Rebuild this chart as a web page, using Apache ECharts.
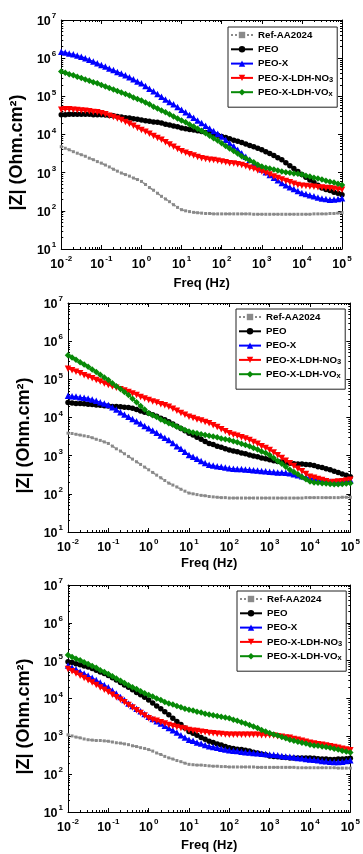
<!DOCTYPE html>
<html><head><meta charset="utf-8">
<script src="https://cdn.jsdelivr.net/npm/echarts@6/dist/echarts.min.js"></script>
<style>html,body{margin:0;padding:0;background:#fff}#c{width:363px;height:854px}</style>
</head><body><div id="c"></div>
<script>
// Frequencies (Hz), 10 points per decade
const freq = [0.01,0.0126,0.0158,0.02,0.0251,0.0316,0.0398,0.0501,0.0631,0.0794,
0.1,0.126,0.158,0.2,0.251,0.316,0.398,0.501,0.631,0.794,
1,1.26,1.58,2,2.51,3.16,3.98,5.01,6.31,7.94,
10,12.6,15.8,20,25.1,31.6,39.8,50.1,63.1,79.4,
100,126,158,200,251,316,398,501,631,794,
1000,1260,1580,2000,2510,3160,3980,5010,6310,7940,
10000,12600,15800,20000,25100,31600,39800,50100,63100,79400,
100000];

const xTickExps = [-2,-1,0,1,2,3,4,5];
const yTickExps = [1,2,3,4,5,6,7];
const seriesNames = ['Ref-AA2024','PEO','PEO-X','PEO-X-LDH-NO3','PEO-X-LDH-VOx'];

// ---- Panel 1: log10(|Z|) ----
const p1Ref = [3.68,3.64,3.60,3.55,3.51,3.47, 3.43,3.38,3.34,3.29,3.25, 3.20,3.15,3.09,3.04,2.99, 2.95,2.91,2.86,2.82,2.77, 2.69,2.61,2.54,2.46,2.38, 2.31,2.24,2.16,2.09,2.03, 2.00,1.98,1.96,1.95,1.94, 1.93,1.93,1.92,1.92,1.92, 1.92,1.92,1.92,1.92,1.92, 1.92,1.92,1.91,1.91,1.91, 1.91,1.91,1.91,1.91,1.91, 1.91,1.91,1.91,1.91,1.91, 1.91,1.91,1.92,1.92,1.92, 1.92,1.93,1.93,1.94,1.95];
const p1PEO = [4.52,4.52,4.53,4.53,4.53,4.53, 4.53,4.53,4.52,4.52,4.52, 4.51,4.50,4.49,4.47,4.46, 4.44,4.43,4.41,4.40,4.38, 4.36,4.35,4.33,4.32,4.30, 4.27,4.25,4.22,4.20,4.17, 4.15,4.13,4.12,4.10,4.08, 4.05,4.03,4.00,3.98,3.95, 3.92,3.89,3.85,3.82,3.79, 3.75,3.71,3.68,3.64,3.60, 3.55,3.50,3.45,3.39,3.34, 3.26,3.18,3.11,3.03,2.95, 2.88,2.81,2.74,2.67,2.60, 2.56,2.53,2.49,2.46,2.42];
const p1X = [6.17,6.15,6.12,6.10,6.07,6.04, 6.00,5.96,5.91,5.87,5.82, 5.78,5.73,5.69,5.64,5.60, 5.55,5.50,5.45,5.39,5.34, 5.27,5.20,5.13,5.06,4.99, 4.92,4.85,4.79,4.72,4.65, 4.58,4.51,4.44,4.37,4.30, 4.23,4.16,4.09,4.02,3.95, 3.86,3.77,3.69,3.60,3.51, 3.42,3.34,3.25,3.17,3.08, 3.01,2.94,2.87,2.80,2.73, 2.67,2.62,2.57,2.52,2.47, 2.44,2.41,2.38,2.35,2.32, 2.31,2.29,2.30,2.31,2.33];
const p1NO3 = [4.65,4.66,4.66,4.65,4.64,4.63, 4.62,4.61,4.59,4.58,4.56, 4.53,4.49,4.46,4.42,4.38, 4.33,4.28,4.23,4.17,4.12, 4.07,4.02,3.96,3.91,3.86, 3.80,3.74,3.68,3.62,3.56, 3.52,3.48,3.45,3.41,3.38, 3.36,3.34,3.33,3.31,3.29, 3.27,3.25,3.24,3.22,3.20, 3.17,3.13,3.10,3.06,3.03, 2.99,2.95,2.90,2.86,2.82, 2.78,2.75,2.71,2.68,2.66, 2.65,2.64,2.63,2.62,2.61, 2.60,2.59,2.58,2.56,2.55];
const p1VOx = [5.65,5.62,5.58,5.55,5.51,5.48, 5.44,5.41,5.37,5.34,5.30, 5.26,5.22,5.18,5.14,5.10, 5.06,5.02,4.97,4.93,4.89, 4.84,4.79,4.73,4.68,4.63, 4.58,4.53,4.47,4.42,4.37, 4.32,4.26,4.21,4.15,4.10, 4.03,3.97,3.90,3.84,3.77, 3.70,3.63,3.57,3.50,3.43, 3.38,3.32,3.27,3.21,3.16, 3.13,3.11,3.08,3.06,3.03, 3.01,3.00,2.98,2.97,2.95, 2.92,2.90,2.87,2.85,2.82, 2.79,2.76,2.74,2.71,2.68];

// ---- Panel 2 ----
const p2Ref = [3.59,3.58,3.56,3.54,3.52,3.50, 3.47,3.43,3.40,3.36,3.32, 3.25,3.18,3.12,3.05,2.98, 2.91,2.84,2.77,2.70,2.63, 2.56,2.49,2.42,2.35,2.28, 2.23,2.18,2.12,2.07,2.02, 2.00,1.98,1.96,1.95,1.93, 1.92,1.91,1.90,1.90,1.89, 1.89,1.89,1.89,1.89,1.89, 1.89,1.89,1.89,1.89,1.89, 1.89,1.89,1.89,1.89,1.89, 1.89,1.89,1.89,1.90,1.90, 1.90,1.90,1.90,1.90,1.90, 1.90,1.90,1.91,1.91,1.91];
const p2PEO = [4.39,4.38,4.37,4.37,4.36,4.35, 4.34,4.33,4.32,4.31,4.30, 4.29,4.29,4.28,4.27,4.26, 4.24,4.21,4.17,4.14,4.11, 4.07,4.03,3.98,3.94,3.89, 3.83,3.77,3.71,3.65,3.59, 3.54,3.48,3.43,3.37,3.32, 3.29,3.25,3.22,3.18,3.15, 3.12,3.10,3.07,3.05,3.02, 2.99,2.97,2.94,2.92,2.89, 2.87,2.85,2.84,2.82,2.80, 2.79,2.78,2.78,2.77,2.76, 2.74,2.71,2.69,2.66,2.63, 2.59,2.56,2.52,2.49,2.45];
const p2X = [4.57,4.56,4.55,4.53,4.52,4.50, 4.47,4.44,4.40,4.37,4.33, 4.27,4.21,4.14,4.08,4.02, 3.96,3.90,3.84,3.78,3.72, 3.66,3.60,3.53,3.47,3.41, 3.33,3.25,3.18,3.10,3.02, 2.97,2.92,2.86,2.81,2.76, 2.74,2.72,2.71,2.69,2.67, 2.66,2.65,2.65,2.64,2.63, 2.62,2.61,2.60,2.59,2.58, 2.57,2.56,2.56,2.55,2.54, 2.51,2.49,2.46,2.44,2.41, 2.39,2.37,2.36,2.34,2.32, 2.31,2.31,2.32,2.34,2.36];
const p2NO3 = [5.28,5.24,5.20,5.16,5.11,5.07, 5.03,4.98,4.94,4.89,4.85, 4.81,4.78,4.74,4.71,4.67, 4.63,4.59,4.54,4.50,4.46, 4.42,4.39,4.35,4.32,4.28, 4.23,4.18,4.12,4.07,4.02, 3.99,3.95,3.92,3.88,3.85, 3.80,3.75,3.69,3.64,3.59, 3.55,3.52,3.48,3.45,3.41, 3.36,3.31,3.25,3.20,3.15, 3.08,3.01,2.94,2.87,2.80, 2.73,2.66,2.59,2.52,2.45, 2.42,2.39,2.36,2.33,2.30, 2.31,2.32,2.33,2.35,2.37];
const p2VOx = [5.63,5.57,5.51,5.45,5.39,5.33, 5.26,5.19,5.12,5.05,4.98, 4.90,4.82,4.75,4.67,4.59, 4.49,4.40,4.30,4.21,4.11, 4.06,4.01,3.95,3.90,3.85, 3.81,3.76,3.72,3.67,3.63, 3.61,3.59,3.56,3.54,3.52, 3.50,3.48,3.45,3.43,3.41, 3.38,3.35,3.31,3.28,3.25, 3.20,3.16,3.11,3.07,3.02, 2.94,2.86,2.79,2.71,2.63, 2.57,2.51,2.44,2.38,2.32, 2.30,2.29,2.28,2.27,2.26, 2.25,2.25,2.26,2.27,2.28];

// ---- Panel 3 ----
const p3Ref = [3.04,3.01,2.98,2.96,2.93,2.91, 2.90,2.89,2.89,2.88,2.87, 2.85,2.83,2.82,2.80,2.78, 2.75,2.73,2.70,2.68,2.65, 2.61,2.56,2.52,2.47,2.43, 2.40,2.36,2.33,2.29,2.26, 2.25,2.24,2.24,2.23,2.22, 2.21,2.21,2.20,2.20,2.19, 2.19,2.19,2.19,2.19,2.19, 2.19,2.18,2.18,2.18,2.18, 2.18,2.18,2.18,2.18,2.18, 2.18,2.17,2.17,2.17,2.17, 2.17,2.17,2.17,2.17,2.17, 2.17,2.16,2.16,2.16,2.16];
const p3PEO = [4.97,4.95,4.92,4.89,4.86,4.83, 4.79,4.75,4.70,4.66,4.61, 4.55,4.49,4.42,4.36,4.30, 4.23,4.16,4.10,4.03,3.96, 3.88,3.80,3.73,3.65,3.57, 3.48,3.39,3.31,3.22,3.13, 3.08,3.03,2.97,2.92,2.87, 2.84,2.80,2.77,2.73,2.70, 2.68,2.66,2.65,2.63,2.61, 2.58,2.56,2.53,2.51,2.48, 2.47,2.46,2.45,2.44,2.43, 2.43,2.43,2.43,2.43,2.43, 2.42,2.41,2.40,2.40,2.39, 2.39,2.40,2.40,2.41,2.42];
const p3X = [4.87,4.82,4.77,4.71,4.66,4.61, 4.55,4.49,4.42,4.36,4.30, 4.21,4.13,4.04,3.96,3.87, 3.80,3.73,3.66,3.59,3.52, 3.46,3.40,3.34,3.28,3.22, 3.16,3.10,3.03,2.97,2.91, 2.88,2.84,2.81,2.77,2.74, 2.72,2.70,2.67,2.65,2.63, 2.62,2.61,2.59,2.58,2.57, 2.56,2.55,2.54,2.53,2.52, 2.51,2.50,2.48,2.47,2.46, 2.45,2.43,2.42,2.40,2.39, 2.38,2.37,2.35,2.34,2.33, 2.32,2.32,2.33,2.35,2.37];
const p3NO3 = [4.78,4.72,4.66,4.60,4.54,4.48, 4.42,4.36,4.29,4.23,4.17, 4.10,4.03,3.97,3.90,3.83, 3.76,3.69,3.62,3.55,3.48, 3.44,3.41,3.37,3.34,3.30, 3.27,3.25,3.22,3.20,3.17, 3.15,3.14,3.12,3.11,3.09, 3.08,3.07,3.06,3.05,3.04, 3.04,3.04,3.04,3.04,3.04, 3.04,3.04,3.03,3.03,3.03, 3.02,3.00,2.99,2.97,2.96, 2.93,2.91,2.88,2.86,2.83, 2.81,2.79,2.78,2.76,2.74, 2.72,2.70,2.67,2.65,2.63];
const p3VOx = [5.15,5.10,5.05,5.01,4.96,4.91, 4.86,4.81,4.75,4.70,4.65, 4.59,4.53,4.47,4.41,4.35, 4.30,4.25,4.19,4.14,4.09, 4.05,4.00,3.96,3.91,3.87, 3.84,3.80,3.77,3.73,3.70, 3.68,3.65,3.63,3.60,3.58, 3.56,3.54,3.52,3.50,3.48, 3.44,3.41,3.37,3.34,3.30, 3.26,3.22,3.17,3.13,3.09, 3.05,3.02,2.98,2.95,2.91, 2.88,2.86,2.83,2.81,2.78, 2.76,2.75,2.73,2.72,2.70, 2.67,2.65,2.62,2.60,2.57];

const panels = [
  [p1Ref, p1PEO, p1X, p1NO3, p1VOx],
  [p2Ref, p2PEO, p2X, p2NO3, p2VOx],
  [p3Ref, p3PEO, p3X, p3NO3, p3VOx]
];

// ---- layout / style ----
const FONT = '"Liberation Sans",Arial,sans-serif';
const grids = [
  {left:59, top:20, width:283, height:229},
  {left:68, top:303, width:283, height:229},
  {left:68, top:585, width:284, height:229}
];
const xNameGap = [26, 23, 25];
const yNameGap = [35, 30, 28];
const legendPos = [{left:228, top:27}, {left:236, top:309}, {left:237, top:591}];

const styles = [
  {color:'#8a8a8a', symbol:'rect', symbolSize:3, lineType:'dotted', width:1.6},
  {color:'#000000', symbol:'circle', symbolSize:5.5, lineType:'solid', width:1.2},
  {color:'#0000ff', symbol:'triangle', symbolSize:6.5, lineType:'solid', width:1.2},
  {color:'#ff0000', symbol:'triangle', symbolSize:6.5, lineType:'solid', width:1.2, rotate:180},
  {color:'#078a07', symbol:'diamond', symbolSize:6.5, lineType:'solid', width:1.2}
];

const tickRich = {
  b:{fontFamily:FONT, fontWeight:'bold', fontSize:12.5, color:'#000', lineHeight:16, verticalAlign:'bottom'},
  s:{fontFamily:FONT, fontWeight:'bold', fontSize:8, color:'#000', lineHeight:7, verticalAlign:'top', padding:[0,0,0,1]}
};
function supFmt(v){ const e = Math.round(Math.log10(v)); return '{b|10}{s|' + e + '}'; }

const minorX = [], minorY = [];
for (let d = xTickExps[0]; d < xTickExps[xTickExps.length-1]; d++) for (let k = 2; k <= 9; k++) minorX.push(d + Math.log10(k));
for (let d = yTickExps[0]; d < yTickExps[yTickExps.length-1]; d++) for (let k = 2; k <= 9; k++) minorY.push(d + Math.log10(k));

const xAxis = [], yAxis = [], series = [], legend = [];
const xMin = Math.pow(10, xTickExps[0]), xMax = Math.pow(10, xTickExps[xTickExps.length-1]);
const yMin = Math.pow(10, yTickExps[0]), yMax = Math.pow(10, yTickExps[yTickExps.length-1]);
const lineS = {show:true, onZero:false, lineStyle:{color:'#000', width:1}};
const noLine = {show:false, onZero:false};

grids.forEach((g, gi) => {
  const xi = xAxis.length, yi = yAxis.length;
  xAxis.push({type:'log', logBase:10, gridIndex:gi, min:xMin, max:xMax, position:'bottom',
    axisLine:lineS, axisTick:{inside:true, length:4, lineStyle:{color:'#000'}},
    axisLabel:{formatter:supFmt, rich:tickRich, margin:6}, splitLine:{show:false},
    name:'Freq (Hz)', nameLocation:'middle', nameGap:xNameGap[gi],
    nameTextStyle:{fontFamily:FONT, fontWeight:'bold', fontSize:13, color:'#000', lineHeight:16}});
  xAxis.push({type:'log', logBase:10, gridIndex:gi, min:xMin, max:xMax, position:'top',
    axisLine:lineS, axisTick:{inside:true, length:4, lineStyle:{color:'#000'}},
    axisLabel:{show:false}, splitLine:{show:false}});
  ['bottom','top'].forEach(p => xAxis.push({type:'value', gridIndex:gi, min:xTickExps[0], max:xTickExps[xTickExps.length-1], position:p,
    axisLine:noLine, axisTick:{inside:true, length:2, customValues:minorX, lineStyle:{color:'#000'}},
    axisLabel:{show:false}, splitLine:{show:false}}));

  yAxis.push({type:'log', logBase:10, gridIndex:gi, min:yMin, max:yMax, position:'left',
    axisLine:lineS, axisTick:{inside:true, length:4, lineStyle:{color:'#000'}},
    axisLabel:{formatter:supFmt, rich:tickRich, margin:5}, splitLine:{show:false},
    name:'|Z| (Ohm.cm²)', nameLocation:'middle', nameGap:yNameGap[gi],
    nameTextStyle:{fontFamily:FONT, fontWeight:'bold', fontSize:18, color:'#000', lineHeight:18, padding:[0,36,0,0]}});
  yAxis.push({type:'log', logBase:10, gridIndex:gi, min:yMin, max:yMax, position:'right',
    axisLine:lineS, axisTick:{inside:true, length:4, lineStyle:{color:'#000'}},
    axisLabel:{show:false}, splitLine:{show:false}});
  ['left','right'].forEach(p => yAxis.push({type:'value', gridIndex:gi, min:yTickExps[0], max:yTickExps[yTickExps.length-1], position:p,
    axisLine:noLine, axisTick:{inside:true, length:2, customValues:minorY, lineStyle:{color:'#000'}},
    axisLabel:{show:false}, splitLine:{show:false}}));

  panels[gi].forEach((arr, si) => {
    const st = styles[si];
    series.push({type:'line', name:seriesNames[si], xAxisIndex:xi, yAxisIndex:yi,
      data: freq.map((f, i) => [f, Math.pow(10, arr[i])]),
      symbol:st.symbol, symbolSize:st.symbolSize, symbolRotate:st.rotate || 0, showAllSymbol:true,
      itemStyle:{color:st.color}, lineStyle:{color:st.color, width:st.width, type:st.lineType},
      animation:false, z:2+si});
  });

  legend.push({orient:'vertical', left:legendPos[gi].left, top:legendPos[gi].top,
    itemWidth:22, itemHeight:8, itemGap:2.3, padding:[2,4,9,2],
    borderColor:'#222', borderWidth:1, backgroundColor:'#fff', selectedMode:false,
    data:seriesNames,
    formatter: n => n === 'PEO-X-LDH-NO3' ? '{n|PEO-X-LDH-NO}{s|3}' : (n === 'PEO-X-LDH-VOx' ? '{n|PEO-X-LDH-VO}{s|x}' : '{n|' + n + '}'),
    textStyle:{fontFamily:FONT, fontWeight:'bold', fontSize:9.7, color:'#000', lineHeight:12,
      rich:{n:{fontFamily:FONT, fontWeight:'bold', fontSize:9.7, color:'#000', lineHeight:12},
            s:{fontFamily:FONT, fontWeight:'bold', fontSize:7.5, color:'#000', lineHeight:6, verticalAlign:'bottom'}}}});
});

const chart = echarts.init(document.getElementById('c'), null, {renderer:'canvas'});
chart.setOption({animation:false, backgroundColor:'#fff', grid:grids, xAxis, yAxis, series, legend});
</script></body></html>
